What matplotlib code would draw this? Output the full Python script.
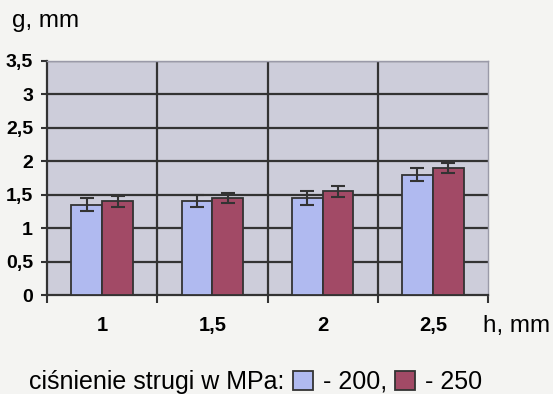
import matplotlib
matplotlib.use("Agg")
import matplotlib.pyplot as plt
from matplotlib.patches import Rectangle
import numpy as np

categories = ["1", "1,5", "2", "2,5"]
vals_200 = [1.35, 1.40, 1.45, 1.80]
vals_250 = [1.40, 1.45, 1.55, 1.90]
err_200 = [0.10, 0.09, 0.10, 0.10]
err_250 = [0.08, 0.07, 0.08, 0.07]
yticks = [0, 0.5, 1, 1.5, 2, 2.5, 3, 3.5]
yticklabels = ["0", "0,5", "1", "1,5", "2", "2,5", "3", "3,5"]

plt.rcParams['font.family'] = ['Liberation Sans', 'DejaVu Sans']

fig = plt.figure(figsize=(5.53, 3.94), dpi=100)
fig.patch.set_facecolor('#f4f4f2')
ax = fig.add_axes([47/553, 1-295/394, (488-47)/553, (295-61)/394])
ax.set_facecolor('#cdcdda')

dark = '#333333'
blue = '#b0baf0'
red = '#a24a66'
x = np.arange(len(categories))
w = 0.28
ax.bar(x - w/2, vals_200, w, color=blue, edgecolor=dark, linewidth=1.3, zorder=3)
ax.bar(x + w/2, vals_250, w, color=red, edgecolor=dark, linewidth=1.3, zorder=3)
ax.errorbar(x - w/2, vals_200, yerr=err_200, fmt='none', ecolor=dark, elinewidth=1.5, capsize=5, capthick=1.5, zorder=4)
ax.errorbar(x + w/2, vals_250, yerr=err_250, fmt='none', ecolor=dark, elinewidth=1.5, capsize=5, capthick=1.5, zorder=4)

ax.set_xlim(-0.5, len(categories) - 0.5)
ax.set_ylim(0, 3.5)
ax.set_yticks(yticks)
ax.set_yticklabels(yticklabels, fontsize=14, fontweight='bold')
ax.set_xticks(x)
ax.set_xticklabels(categories, fontsize=14.5, fontweight='bold')
ax.tick_params(axis='x', length=0, pad=15)
ax.set_xticks(np.arange(-0.5, len(categories)), minor=True)
ax.tick_params(axis='x', which='minor', length=6, width=1.5, color=dark, direction='out')
ax.tick_params(axis='y', length=4, width=1.5, color=dark, direction='out', pad=6)

for yv in yticks[1:]:
    ax.axhline(yv, color=dark, linewidth=1.6, zorder=1)
for xv in np.arange(0.5, len(categories) - 0.5):
    ax.axvline(xv, color=dark, linewidth=1.6, zorder=1)

ax.spines['top'].set_color('#9a9aa8')
ax.spines['top'].set_linewidth(1.0)
ax.spines['right'].set_color('#9a9aa8')
ax.spines['right'].set_linewidth(1.0)
ax.spines['left'].set_color(dark)
ax.spines['left'].set_linewidth(1.6)
ax.spines['bottom'].set_color(dark)
ax.spines['bottom'].set_linewidth(1.6)

fig.text(12/553, 1-21/394, "g, mm", fontsize=17.5, va='center', ha='left')
fig.text(483/553, 1-326/394, "h, mm", fontsize=17.5, va='center', ha='left')

fig.text(29/553, 1-382/394, "ciśnienie strugi w MPa:", fontsize=18, va='center', ha='left')
h1 = Rectangle((0, 0), 1, 1, facecolor=blue, edgecolor=dark, linewidth=1.3)
h2 = Rectangle((0, 0), 1, 1, facecolor=red, edgecolor=dark, linewidth=1.3)
fig.legend([h1, h2], ["- 200,", "- 250"], loc='center left', bbox_to_anchor=(293/553, 1-382/394),
           ncol=2, frameon=False, fontsize=18, handlelength=0.8, handleheight=0.8,
           handletextpad=0.4, columnspacing=0.3, borderpad=0, borderaxespad=0)

fig.savefig("out.png", dpi=100, facecolor=fig.get_facecolor())
